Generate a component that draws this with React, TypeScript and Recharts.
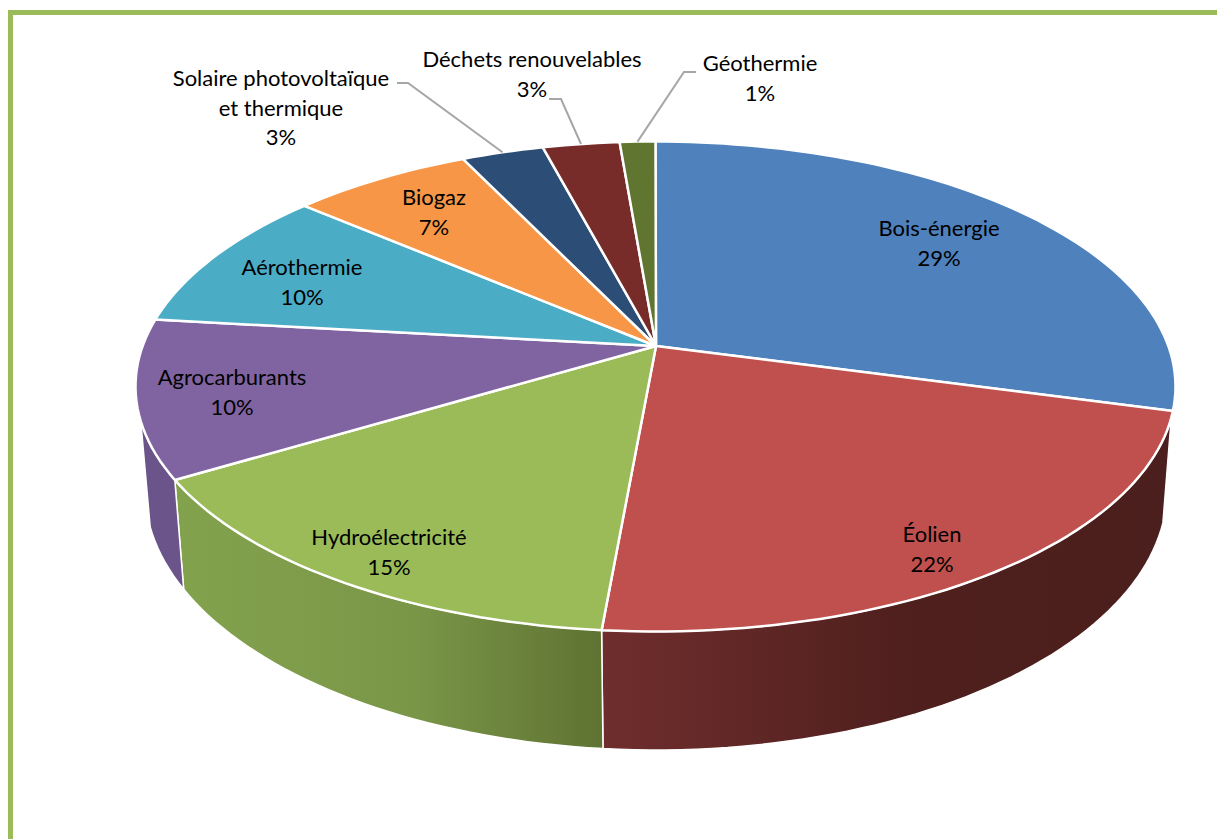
import { PieChart, Pie } from "recharts";

const CATEGORIES = [
  "Bois-énergie", "Éolien", "Hydroélectricité", "Agrocarburants", "Aérothermie",
  "Biogaz", "Solaire photovoltaïque et thermique", "Déchets renouvelables", "Géothermie",
];
const VALUES = [29.2, 22.2, 15.0, 10.4, 9.5, 6.6, 3.0, 2.8, 1.3];
const COLORS = ["#4f81bd", "#c0504d", "#9bbb59", "#8064a2", "#4bacc6", "#f79646", "#2c4d75", "#772c2a", "#5f7530"];

// side wall shading, left to right
const WALLS: Record<number, string[]> = {
  1: ["#6f2e2d", "#4e1f1d", "#4b1f1d"],
  2: ["#83a24d", "#7a9748", "#5f7232"],
  3: ["#6b548a", "#6b548a", "#6b548a"],
};

const LABEL_LINES = [
  ["Bois-énergie"], ["Éolien"], ["Hydroélectricité"], ["Agrocarburants"], ["Aérothermie"],
  ["Biogaz"], ["Solaire photovoltaïque", "et thermique"], ["Déchets renouvelables"], ["Géothermie"],
];

// centre x, first baseline
const LABEL_POS = [
  [939, 236], [932, 542], [389, 545], [232, 385], [302, 275],
  [434, 205], [281, 86], [532, 67], [760, 71],
];

// start and elbow of the leader lines
const LEADERS: Record<number, number[][]> = {
  6: [[397, 83], [408, 83]],
  7: [[549, 99], [561, 99]],
  8: [[696, 72], [684, 72]],
};

const data = CATEGORIES.map((name, i) => ({ name, value: VALUES[i], fill: COLORS[i] }));

// top face ellipse, with the pie centre pushed back by perspective
const TOP = { cx: 655.5, cy: 386.5, rx: 520, ry: 245 };
const BOTTOM = { cx: 656, cy: 490, rx: 511, ry: 260 };
const K = (346 - TOP.cy) / TOP.ry;

function rim(angle: number) {
  const t = ((90 - angle) * Math.PI) / 180;
  const x = Math.sin(t);
  const y = -Math.cos(t);
  const d = 1 + K * y;
  return { u: (x * Math.sqrt(1 - K * K)) / d, v: (y + K) / d };
}

const px = (e: typeof TOP, p: { u: number; v: number }) =>
  `${(e.cx + e.rx * p.u).toFixed(1)},${(e.cy + e.ry * p.v).toFixed(1)}`;

function Slice(props: any) {
  const { cx, cy, startAngle, endAngle, fill, name } = props;
  const index = CATEGORIES.indexOf(name);
  const rimPts = [];
  const n = Math.max(4, Math.ceil(Math.abs(startAngle - endAngle) / 1.5));
  for (let i = 0; i <= n; i++) rimPts.push(rim(startAngle + ((endAngle - startAngle) * i) / n));

  const front = rimPts.filter((p) => p.v >= 0.12);
  const stops = WALLS[index];
  return (
    <g>
      {stops && front.length > 1 && (
        <>
          <defs>
            <linearGradient id={`wall${index}`} x1="0" y1="0" x2="1" y2="0">
              <stop offset="0" stopColor={stops[0]} />
              <stop offset="0.55" stopColor={stops[1]} />
              <stop offset="1" stopColor={stops[2]} />
            </linearGradient>
          </defs>
          <path
            d={`M${front.map((p) => px(TOP, p)).join("L")}L${[...front].reverse().map((p) => px(BOTTOM, p)).join("L")}Z`}
            fill={`url(#wall${index})`}
            stroke="#fff"
            strokeWidth={1.5}
            strokeLinejoin="round"
          />
        </>
      )}
      <path
        d={`M${cx},${cy}L${rimPts.map((p) => px(TOP, p)).join("L")}Z`}
        fill={fill}
        stroke="#fff"
        strokeWidth={2.5}
        strokeLinejoin="round"
      />
    </g>
  );
}

function SliceLabel(props: any) {
  const { index, percent, midAngle } = props;
  const [x, y] = LABEL_POS[index];
  const lines = [...LABEL_LINES[index], `${Math.round(percent * 100)}%`];
  const leader = LEADERS[index];
  const end = rim(midAngle);
  return (
    <g>
      {leader && (
        <polyline
          points={`${leader[0].join(",")} ${leader[1].join(",")} ${px(TOP, end)}`}
          fill="none"
          stroke="#a6a6a6"
          strokeWidth={2}
        />
      )}
      <text x={x} y={y} textAnchor="middle" fontFamily="Lato" fontSize={22} fill="#000">
        {lines.map((l, i) => (
          <tspan key={i} x={x} dy={i === 0 ? 0 : 29.5}>{l}</tspan>
        ))}
      </text>
    </g>
  );
}

export default function App() {
  return (
    <div style={{ position: "fixed", left: 0, top: 0, width: 1217, height: 839, overflow: "hidden", background: "#fff" }}>
      <div
        style={{
          position: "absolute", left: 8, top: 10, width: 1400, height: 1000,
          borderLeft: "5px solid #9bbb59", borderTop: "5px solid #9bbb59",
        }}
      />
      <div style={{ position: "absolute", left: 0, top: 0 }}>
        <PieChart width={1217} height={839} margin={{ top: 0, right: 0, bottom: 0, left: 0 }}>
          <Pie
            data={data}
            dataKey="value"
            nameKey="name"
            cx={656}
            cy={346}
            innerRadius={0}
            outerRadius={518}
            startAngle={90}
            endAngle={-270}
            stroke="#fff"
            shape={Slice}
            label={SliceLabel}
            labelLine={false}
            isAnimationActive={false}
          />
        </PieChart>
      </div>
    </div>
  );
}
